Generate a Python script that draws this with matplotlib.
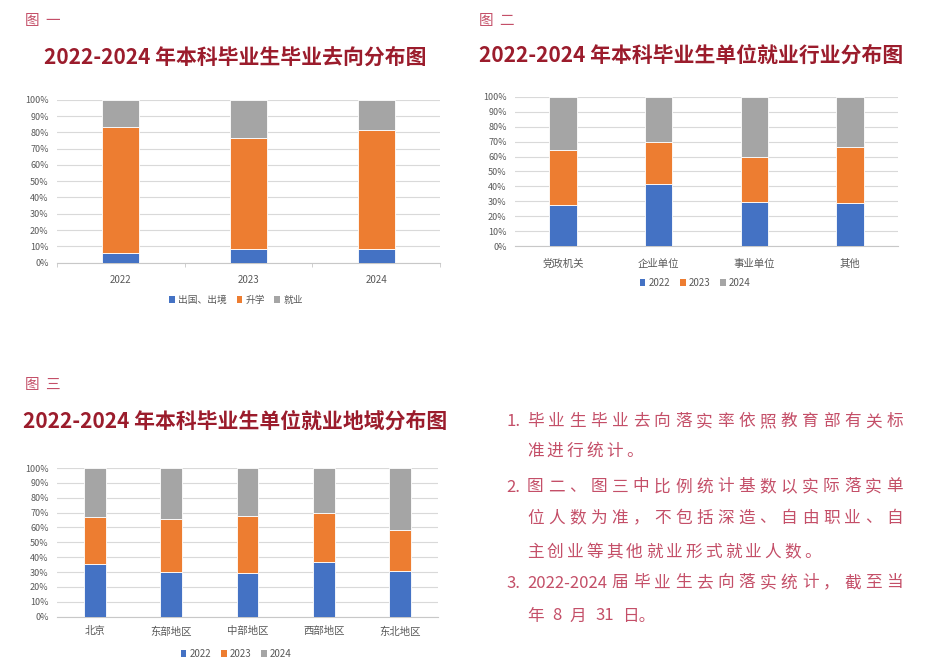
import matplotlib
matplotlib.use('Agg')
import matplotlib.pyplot as plt
from matplotlib.patches import Patch

plt.rcParams['font.family'] = ['Noto Sans CJK SC', 'DejaVu Sans']

# ---- data (percent) ----
years = ['2022', '2023', '2024']
go_abroad = [6.1, 8.2, 8.2]
further_study = [76.9, 68.5, 73.4]
employed = [17.0, 23.3, 18.4]

industries = ['党政机关', '企业单位', '事业单位', '其他']
ind_2022 = [27.8, 41.9, 29.8, 29.0]
ind_2023 = [36.3, 27.6, 29.7, 37.6]
ind_2024 = [35.9, 30.5, 40.5, 33.4]

regions = ['北京', '东部地区', '中部地区', '西部地区', '东北地区']
reg_2022 = [35.4, 29.8, 29.1, 36.5, 30.7]
reg_2023 = [31.4, 35.7, 38.4, 33.5, 27.8]
reg_2024 = [33.2, 34.5, 32.5, 30.0, 41.5]

yticks = list(range(0, 101, 10))
ytick_labels = [f'{v}%' for v in yticks]

BLUE = '#4472C4'
ORANGE = '#ED7D31'
GRAY = '#A5A5A5'
TITLE_RED = '#9B1C2C'
PINK = '#C44F68'
TICK_GRAY = '#595959'

W, H = 926, 665
fig = plt.figure(figsize=(W / 100, H / 100), dpi=100)


def px_axes(left, top, right, bottom):
    return fig.add_axes([left / W, 1 - bottom / H, (right - left) / W, (bottom - top) / H])


def stacked(ax, cats, series, colors, width, xpad):
    x = list(range(len(cats)))
    base = [0] * len(cats)
    for vals, c in zip(series, colors):
        ax.bar(x, vals, width, bottom=base, color=c, edgecolor='white', linewidth=0.6, zorder=3)
        base = [b + v for b, v in zip(base, vals)]
    ax.set_xlim(-0.5, len(cats) - 0.5)
    ax.set_ylim(0, 100)
    ax.set_yticks(yticks, ytick_labels)
    ax.set_xticks(x, cats)
    ax.grid(axis='y', color='#D9D9D9', linewidth=0.8, zorder=0)
    for s in ['top', 'right', 'left']:
        ax.spines[s].set_visible(False)
    ax.spines['bottom'].set_color('#C8C8C8')
    ax.spines['bottom'].set_linewidth(0.8)
    ax.tick_params(axis='y', length=0, pad=6, labelsize=6.5, labelcolor=TICK_GRAY)
    ax.tick_params(axis='x', length=0, pad=xpad, labelcolor=TICK_GRAY)


def legend(labels, colors, cx, cy, size):
    handles = [Patch(facecolor=c, edgecolor='none') for c in colors]
    fig.legend(handles, labels, loc='center', bbox_to_anchor=(cx / W, 1 - cy / H),
               ncol=len(labels), frameon=False, fontsize=size, handlelength=0.6,
               handleheight=0.6, handletextpad=0.3, columnspacing=1.0,
               labelcolor=TICK_GRAY)


# ---- chart 1 ----
ax1 = px_axes(57, 99.7, 440, 262.7)
stacked(ax1, years, [go_abroad, further_study, employed], [BLUE, ORANGE, GRAY], 0.29, 9)
ax1.tick_params(axis='x', labelsize=7)
ax1.set_xticks([-0.5, 0.5, 1.5, 2.5], minor=True)
ax1.tick_params(axis='x', which='minor', length=3, color='#C8C8C8')
legend(['出国、出境', '升学', '就业'], [BLUE, ORANGE, GRAY], 236, 300, 7)

# ---- chart 2 ----
ax2 = px_axes(515, 96.7, 898, 246.3)
stacked(ax2, industries, [ind_2022, ind_2023, ind_2024], [BLUE, ORANGE, GRAY], 0.285, 9)
ax2.tick_params(axis='x', labelsize=7.5)
legend(years, [BLUE, ORANGE, GRAY], 695, 283, 7)

# ---- chart 3 ----
ax3 = px_axes(57, 468, 438, 616.7)
stacked(ax3, regions, [reg_2022, reg_2023, reg_2024], [BLUE, ORANGE, GRAY], 0.285, 7)
ax3.tick_params(axis='x', labelsize=7.5)
legend(years, [BLUE, ORANGE, GRAY], 236, 654, 7)

# ---- titles ----
def fig_label(x, y, a, b):
    fig.text(x / W, 1 - y / H, a, color=PINK, fontsize=10.5, va='center', ha='left')
    fig.text((x + 20) / W, 1 - y / H, b, color=PINK, fontsize=10.5, va='center', ha='left')


fig_label(25, 21, '图', '一')
fig_label(479, 21, '图', '二')
fig_label(25, 385, '图', '三')

fig.text(235 / W, 1 - 57 / H, '2022-2024 年本科毕业生毕业去向分布图', color=TITLE_RED,
         fontsize=15, fontweight='bold', ha='center', va='center')
fig.text(691 / W, 1 - 55 / H, '2022-2024 年本科毕业生单位就业行业分布图', color=TITLE_RED,
         fontsize=15, fontweight='bold', ha='center', va='center')
fig.text(235 / W, 1 - 421 / H, '2022-2024 年本科毕业生单位就业地域分布图', color=TITLE_RED,
         fontsize=15, fontweight='bold', ha='center', va='center')

# ---- notes: mode 'j' = justified, 'p' = fixed pitch, 'g' = gap between tokens ----
notes = [
    ('1.', list('毕业生毕业去向落实率依照教育部有关标'), 421.7, 'j'),
    ('', list('准进行统计。'), 451.7, 'p'),
    ('2.', list('图二、图三中比例统计基数以实际落实单'), 487, 'j'),
    ('', list('位人数为准，不包括深造、自由职业、自'), 518, 'j'),
    ('', list('主创业等其他就业形式就业人数。'), 552, 'p'),
    ('3.', ['2022-2024'] + list('届毕业生去向落实统计，截至当'), 583, 'j'),
    ('', ['年', '8', '月', '31', '日。'], 616, 'g'),
]
note_fs = 12
left_num, left_txt, right_edge = 506, 527, 903
renderer = fig.canvas.get_renderer()
pitch = 19.8
for num, tokens, y, mode in notes:
    yy = 1 - y / H
    if num:
        fig.text(left_num / W, yy, num, color=PINK, fontsize=note_fs, va='center', ha='left')
    widths = []
    for t in tokens:
        tt = fig.text(0, 0, t, fontsize=note_fs)
        widths.append(tt.get_window_extent(renderer).width)
        tt.remove()
    if mode == 'j':
        gap = (right_edge - left_txt - sum(widths)) / (len(tokens) - 1)
    else:
        gap = 8.5
    x = left_txt
    for t, w in zip(tokens, widths):
        fig.text(x / W, yy, t, color=PINK, fontsize=note_fs, va='center', ha='left')
        x += pitch if mode == 'p' else w + gap

fig.savefig('out.png', dpi=100)
